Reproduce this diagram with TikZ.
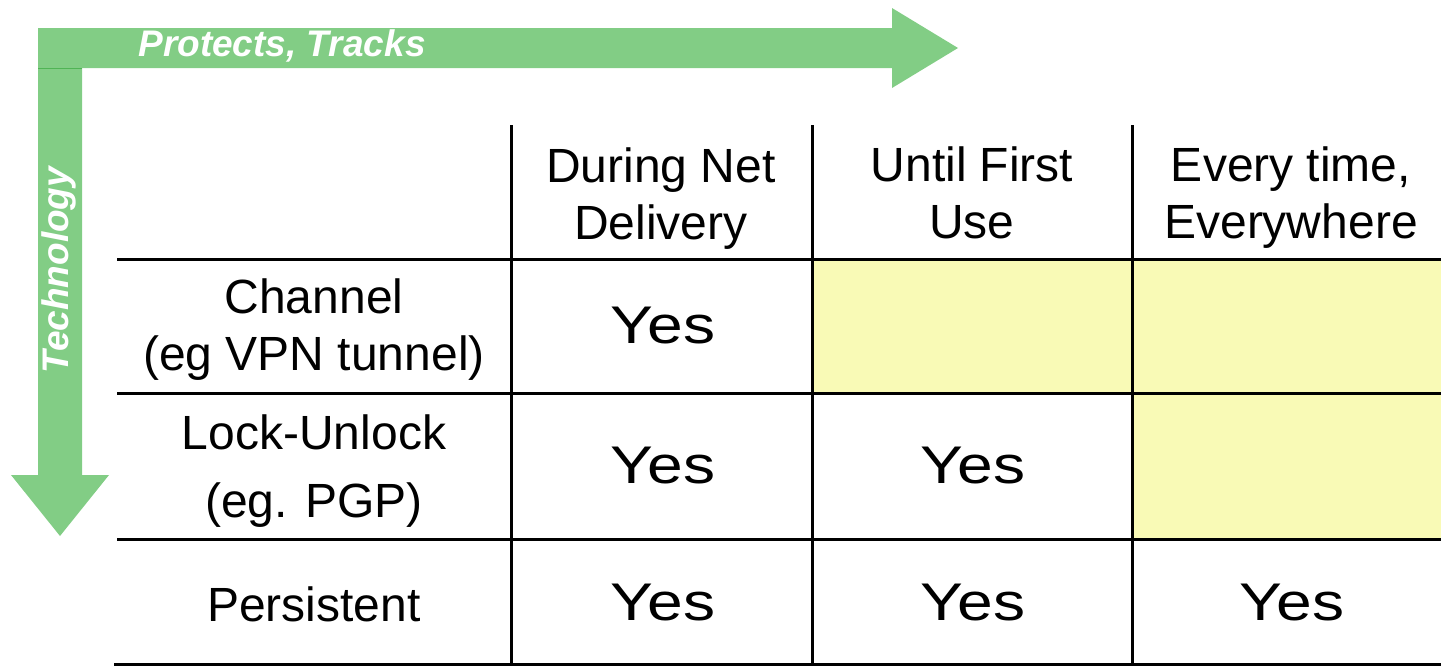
\documentclass[tikz,border=0pt]{standalone}
\usepackage{fontspec}
\setmainfont{Liberation Sans}
\usetikzlibrary{positioning}
\definecolor{arrowgreen}{RGB}{130,205,133}
\definecolor{edgegreen}{RGB}{80,180,85}
\definecolor{cellyellow}{RGB}{249,250,182}
\tikzset{
  hdr/.style={align=center, font=\fontsize{48}{57}\selectfont, inner sep=0pt},
  yes/.style={font=\fontsize{53}{60}\selectfont, xscale=1.21, inner sep=0pt},
  axislbl/.style={text=white, font=\fontsize{37}{42}\selectfont\bfseries\itshape, inner sep=0pt},
  grid/.style={line width=3pt}
}

\begin{document}
\begin{tikzpicture}[x=1pt,y=-1pt]
        \useasboundingbox (0,0) rectangle (1441,665);
        % green axes
        \fill[arrowgreen] (38,28) -- (892,28) -- (892,8) -- (958,48) -- (892,88) -- (892,68) -- (38,68) -- cycle;
        \fill[arrowgreen] (38,68) -- (82,68) -- (82,475) -- (109,475) -- (60,536) -- (11,475) -- (38,475) -- cycle;
        \draw[edgegreen, line width=1pt] (38,68) -- (82,68);
        \node[axislbl] (protects) at (282,46) {Protects, Tracks};
        \node[axislbl, rotate=90] (technology) at (59,270) {Technology};
        % shaded cells
        \fill[cellyellow] (812,259) rectangle (1441,393);
        \fill[cellyellow] (1132,393) rectangle (1441,539);
        % grid
        \draw[grid] (511,125) -- (511,664);
        \draw[grid] (812,125) -- (812,664);
        \draw[grid] (1132,125) -- (1132,664);
        \draw[grid] (117,259) -- (1441,259);
        \draw[grid] (117,393) -- (1441,393);
        \draw[grid] (117,539) -- (1441,539);
        \draw[grid] (114,664) -- (1441,664);
        % column heads
        \node[hdr] (during) at (661,199) {During Net\\Delivery};
        \node[hdr] (until) at (972,193) {Until First\\Use};
        \node[hdr] (every) at (1291,198) {Every time,\\Everywhere};
        % row heads
        \node[hdr] (channel) at (314,330) {Channel\\(eg VPN tunnel)};
        \node[hdr] (lock) at (314,471) {Lock-Unlock\\[11pt](eg. PGP)};
        \node[hdr] (persistent) at (314,604) {Persistent};
        % entries
        \node[yes] (y11) at (663,326) {Yes};
        \node[yes] (y21) at (663,466) {Yes};
        \node[yes] (y22) at (973,466) {Yes};
        \node[yes] (y31) at (663,603) {Yes};
        \node[yes] (y32) at (973,603) {Yes};
        \node[yes] (y33) at (1292,603) {Yes};
\end{tikzpicture}
\end{document}
